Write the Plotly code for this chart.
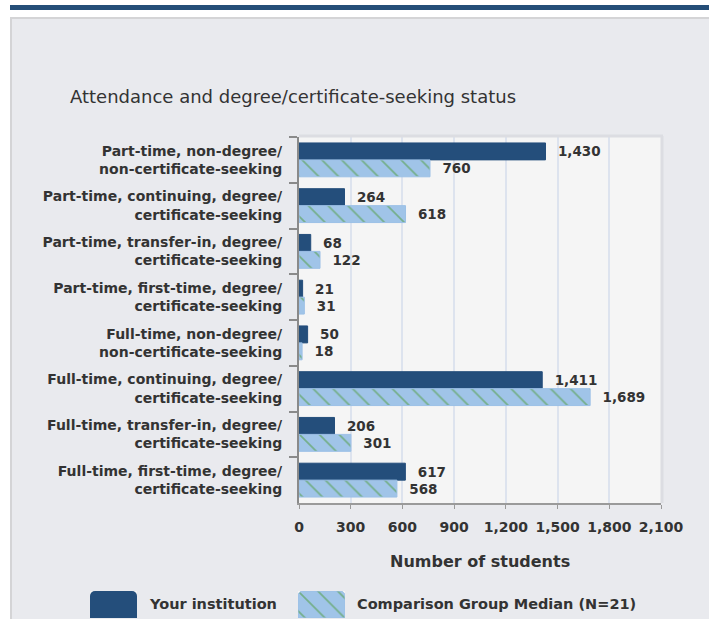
import plotly.graph_objects as go

# ---------------- data ----------------
categories = [
    "Part-time, non-degree/<br>non-certificate-seeking",
    "Part-time, continuing, degree/<br>certificate-seeking",
    "Part-time, transfer-in, degree/<br>certificate-seeking",
    "Part-time, first-time, degree/<br>certificate-seeking",
    "Full-time, non-degree/<br>non-certificate-seeking",
    "Full-time, continuing, degree/<br>certificate-seeking",
    "Full-time, transfer-in, degree/<br>certificate-seeking",
    "Full-time, first-time, degree/<br>certificate-seeking",
]
your_institution = [1430, 264, 68, 21, 50, 1411, 206, 617]
comparison_median = [760, 618, 122, 31, 18, 1689, 301, 568]
x_tick_values = [0, 300, 600, 900, 1200, 1500, 1800, 2100]
series_names = ["Your institution", "Comparison Group Median (N=21)"]
chart_title = "Attendance and degree/certificate-seeking status"
x_title = "Number of students"

# ---------------- layout helpers (pixel -> paper) ----------------
W, H = 709, 619


def px(x):
    return x / W


def py(y):
    return 1 - y / H


DARK = "#244e7b"
LIGHT = "#a0c4e8"
GREEN = "#55a048"
TXT = "#333333"
FONT = "DejaVu Sans, Verdana, sans-serif"

pattern = dict(shape="\\", fgcolor=GREEN, bgcolor=LIGHT, size=14,
               solidity=0.12, fgopacity=0.6)

fig = go.Figure()

fig.add_trace(go.Bar(
    y=categories, x=your_institution, orientation="h", name=series_names[0],
    marker=dict(color=DARK, line=dict(color=DARK, width=1)),
    texttemplate="\u00a0\u00a0%{x:,}", textposition="outside",
    textfont=dict(family=FONT, size=13.5, color=TXT, weight="bold"),
    cliponaxis=False, showlegend=False,
))
fig.add_trace(go.Bar(
    y=categories, x=comparison_median, orientation="h", name=series_names[1],
    marker=dict(color=LIGHT, line=dict(color="#9cc0e6", width=1), pattern=pattern),
    texttemplate="\u00a0\u00a0%{x:,}", textposition="outside",
    textfont=dict(family=FONT, size=13.5, color=TXT, weight="bold"),
    cliponaxis=False, showlegend=False,
))

# legend swatches drawn as tiny bar charts on their own hidden axes
fig.add_trace(go.Bar(x=[0], y=[1], width=[1], xaxis="x2", yaxis="y2",
                     marker=dict(color=DARK, cornerradius=5), showlegend=False,
                     hoverinfo="skip"))
fig.add_trace(go.Bar(x=[0], y=[1], width=[1], xaxis="x3", yaxis="y3",
                     marker=dict(color=LIGHT, cornerradius=5, pattern=pattern,
                                 line=dict(color="#9cc0e6", width=1)),
                     showlegend=False, hoverinfo="skip"))

hidden = dict(visible=False, fixedrange=True)

fig.update_layout(
    template="none",
    width=W, height=H,
    margin=dict(l=0, r=0, t=0, b=0),
    paper_bgcolor="#e9eaee",
    plot_bgcolor="#f5f5f5",
    barmode="group", bargap=0.26, bargroupgap=0,
    font=dict(family=FONT, color=TXT),
    xaxis=dict(
        domain=[px(299), px(661)], range=[0, 2100], automargin=False,
        tickvals=x_tick_values, tickformat=",",
        showgrid=True, gridcolor="#dde3ee", gridwidth=2, zeroline=False,
        showline=True, linecolor="#9a9a9a", linewidth=2,
        ticks="outside", ticklen=4, tickcolor="#9a9a9a",
        ticklabelstandoff=6,
        tickfont=dict(family=FONT, size=14, color=TXT, weight="bold"),
    ),
    yaxis=dict(
        domain=[py(503), py(137)], autorange="reversed", automargin=False,
        type="category", tickson="boundaries",
        ticks="outside", ticklen=8, tickcolor="#8a8a8a", tickwidth=1.5,
        showline=True, linecolor="#8a8a8a", linewidth=2, showgrid=False,
        ticklabelstandoff=12,
        tickfont=dict(family=FONT, size=14, color=TXT, weight="bold"),
    ),
    xaxis2=dict(domain=[px(90), px(137)], range=[-0.5, 0.5], anchor="y2", **hidden),
    yaxis2=dict(domain=[py(618), py(591)], range=[0, 1], anchor="x2", **hidden),
    xaxis3=dict(domain=[px(298), px(345)], range=[-0.5, 0.5], anchor="y3", **hidden),
    yaxis3=dict(domain=[py(618), py(591)], range=[0, 1], anchor="x3", **hidden),
)

shapes = [
    # white outer strips
    dict(type="rect", xref="paper", yref="paper", x0=0, x1=1, y0=py(17), y1=1,
         fillcolor="white", line_width=0, layer="below"),
    dict(type="rect", xref="paper", yref="paper", x0=0, x1=px(10), y0=0, y1=1,
         fillcolor="white", line_width=0, layer="below"),
    # dark blue header band
    dict(type="rect", xref="paper", yref="paper", x0=px(10), x1=1, y0=py(10), y1=py(5),
         fillcolor="#254e78", line_width=0, layer="below"),
    # panel borders
    dict(type="rect", xref="paper", yref="paper", x0=px(10), x1=1, y0=py(19), y1=py(17),
         fillcolor="#d4d4d6", line_width=0, layer="below"),
    dict(type="rect", xref="paper", yref="paper", x0=px(10), x1=px(12), y0=0, y1=py(17),
         fillcolor="#d4d4d6", line_width=0, layer="below"),
    # plot frame top/right
    dict(type="line", xref="paper", yref="paper", x0=px(299), x1=px(663), y0=py(136), y1=py(136),
         line=dict(color="#dcdde2", width=3)),
    dict(type="line", xref="paper", yref="paper", x0=px(662), x1=px(662), y0=py(136), y1=py(503),
         line=dict(color="#dcdde2", width=3)),
]
fig.update_layout(shapes=shapes)

annotations = [
    dict(text=chart_title, x=px(68), y=py(97), xref="paper", yref="paper",
         xanchor="left", yanchor="middle", showarrow=False,
         font=dict(family=FONT, size=18, color=TXT)),
    dict(text=x_title, x=px(480), y=py(561), xref="paper", yref="paper",
         xanchor="center", yanchor="middle", showarrow=False,
         font=dict(family=FONT, size=16, color=TXT, weight="bold")),
    dict(text=series_names[0], x=px(147), y=py(604), xref="paper", yref="paper",
         xanchor="left", yanchor="middle", showarrow=False,
         font=dict(family=FONT, size=14.5, color=TXT, weight="bold")),
    dict(text=series_names[1], x=px(355), y=py(604), xref="paper", yref="paper",
         xanchor="left", yanchor="middle", showarrow=False,
         font=dict(family=FONT, size=14.5, color=TXT, weight="bold")),
]
fig.update_layout(annotations=annotations)

fig.write_html(
    "out.html",
    config={"displayModeBar": False},
    post_script="document.body.style.margin='0';document.body.style.overflow='hidden';",
)
